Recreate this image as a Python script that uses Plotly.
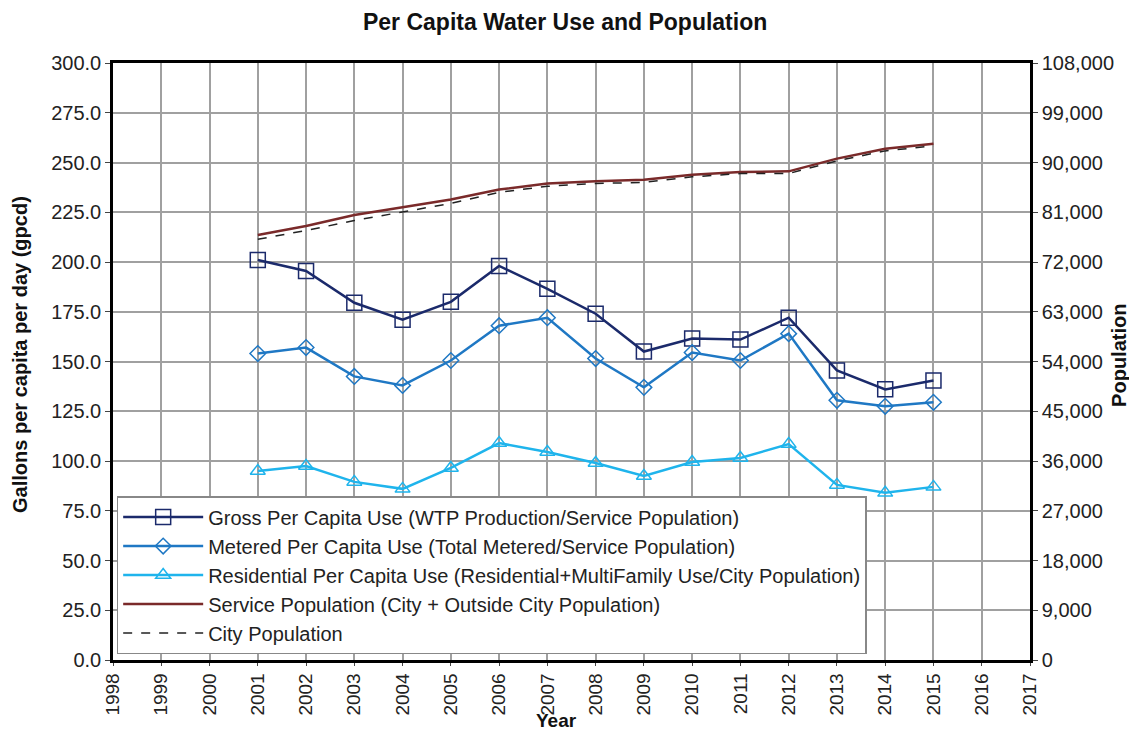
import plotly.graph_objects as go

years = list(range(2001, 2016))
gross = [201, 195.5, 179.5, 171, 180, 198, 186.5, 174, 155, 161.5, 161, 172, 145.5, 136, 140.5]
metered = [154, 157, 142.5, 138, 150.5, 168, 172, 151.5, 137, 154.5, 150.5, 164, 130.5, 127.5, 129.5]
residential = [95, 97.5, 89.5, 86, 96.5, 109, 104.5, 99, 92.5, 99.5, 101.5, 108.5, 88, 84, 87]
service_pop = [76900, 78500, 80500, 81900, 83300, 85100, 86200, 86600, 86900, 87800, 88300, 88400, 90700, 92500, 93400]
city_pop = [76100, 77700, 79500, 81100, 82600, 84600, 85700, 86200, 86400, 87400, 88000, 88000, 90300, 92100, 93000]

names = [
    "Gross Per Capita Use (WTP Production/Service Population)",
    "Metered Per Capita Use (Total Metered/Service Population)",
    "Residential Per Capita Use (Residential+MultiFamily Use/City Population)",
    "Service Population (City + Outside City Population)",
    "City Population",
]

font = "Arial, Liberation Sans, sans-serif"
fig = go.Figure()
fig.add_trace(go.Scatter(x=years, y=gross, name=names[0], mode="lines+markers",
                         line=dict(color="#1b2a6b", width=2.5),
                         marker=dict(symbol="square-open", size=15, color="#1b2a6b", line=dict(width=1.5))))
fig.add_trace(go.Scatter(x=years, y=metered, name=names[1], mode="lines+markers",
                         line=dict(color="#1f78c4", width=2.5),
                         marker=dict(symbol="diamond-open", size=12, color="#1f78c4", line=dict(width=1.5))))
fig.add_trace(go.Scatter(x=years, y=residential, name=names[2], mode="lines+markers",
                         line=dict(color="#1fb4ec", width=2.5),
                         marker=dict(symbol="triangle-up-open", size=13, color="#1fb4ec", line=dict(width=1.5))))
fig.add_trace(go.Scatter(x=years, y=service_pop, name=names[3], mode="lines", yaxis="y2",
                         line=dict(color="#7a2a2a", width=2.5)))
fig.add_trace(go.Scatter(x=years, y=city_pop, name=names[4], mode="lines", yaxis="y2",
                         line=dict(color="#222222", width=1.5, dash="dash")))

title_font = dict(family=font, size=20, color="#111")
fig.update_layout(
    width=1121, height=727,
    margin=dict(l=105, r=99, t=55, b=75, autoexpand=False),
    paper_bgcolor="white", plot_bgcolor="white",
    font=dict(family=font, size=20, color="#222"),
    title=dict(text="<b>Per Capita Water Use and Population</b>", x=0.497, xanchor="center",
               y=0.981, yanchor="middle", font=dict(size=23, color="#111")),
    showlegend=True,
    legend=dict(x=0.004, y=0.01, xanchor="left", yanchor="bottom",
                bgcolor="white", bordercolor="#888", borderwidth=1.5,
                font=dict(size=20, color="#222"), tracegroupgap=0, itemwidth=80),
    xaxis=dict(range=[1998, 2017], dtick=1, tick0=1998, tickangle=-90, automargin=False,
               showgrid=True, gridcolor="#a0a0a0", gridwidth=1.5,
               showline=True, linecolor="black", linewidth=2.5, mirror=True,
               ticks="outside", ticklen=3, tickcolor="#444",
               tickfont=dict(size=19, color="#222")),
    yaxis=dict(range=[0, 300], dtick=25, tickformat=".1f", automargin=False,
               showgrid=True, gridcolor="#a0a0a0", gridwidth=1.5,
               showline=True, linecolor="black", linewidth=2.5,
               ticks="outside", ticklen=5, tickcolor="#444",
               tickfont=dict(size=20, color="#222")),
    yaxis2=dict(range=[0, 108000], dtick=9000, tickformat=",d", overlaying="y", side="right", automargin=False,
                showgrid=False, showline=True, linecolor="black", linewidth=2.5,
                ticks="outside", ticklen=5, tickcolor="#444",
                tickfont=dict(size=20, color="#222")),
    annotations=[
        dict(text="<b>Year</b>", xref="paper", yref="paper", x=0.484, y=-0.1223,
             xanchor="center", yanchor="bottom", showarrow=False, font=dict(family=font, size=19, color="#111")),
        dict(text="<b>Gallons per capita per day (gpcd)</b>", xref="paper", yref="paper", x=-0.1014, y=0.511,
             xanchor="center", yanchor="middle", textangle=-90, showarrow=False, font=title_font),
        dict(text="<b>Population</b>", xref="paper", yref="paper", x=1.097, y=0.511,
             xanchor="center", yanchor="middle", textangle=-90, showarrow=False, font=title_font),
    ],
)

fig.write_html("out.html")
